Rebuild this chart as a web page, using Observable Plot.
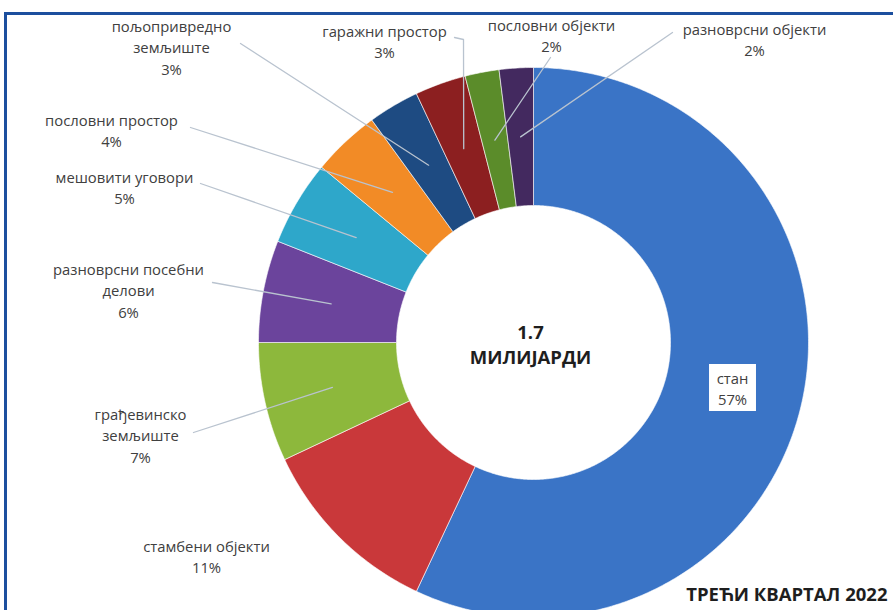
<!DOCTYPE html>
<html><head><meta charset="utf-8">
<script src="https://cdn.jsdelivr.net/npm/d3@7"></script>
<script src="https://cdn.jsdelivr.net/npm/@observablehq/plot@0.6"></script>
<style>
body{margin:0;background:#fff;}
#wrap{position:relative;width:893px;height:610px;overflow:hidden;background:#fff;}
#frame{position:absolute;left:4px;top:12px;width:1000px;height:800px;border-left:3px solid #1c4f9e;border-top:3px solid #1c4f9e;}
#chart{position:absolute;left:0;top:0;}
</style></head>
<body><div id="wrap"><div id="frame"></div><div id="chart"></div></div>
<script>
// ---- data ----
const categories = ["стан","стамбени објекти","грађевинско земљиште","разноврсни посебни делови","мешовити уговори","пословни простор","пољопривредно земљиште","гаражни простор","пословни објекти","разноврсни објекти"];
const shares = [57, 11, 7, 6, 5, 4, 3, 3, 2, 2];
const labelTexts = ["стан\n57%","стамбени објекти\n11%","грађевинско\nземљиште\n7%","разноврсни посебни\nделови\n6%","мешовити уговори\n5%","пословни простор\n4%","пољопривредно\nземљиште\n3%","гаражни простор\n3%","пословни објекти\n2%","разноврсни објекти\n2%"];
const totalLabel = "1.7\nМИЛИЈАРДИ";
const periodLabel = "ТРЕЋИ КВАРТАЛ 2022";

// ---- style / layout ----
const colors = ["#3a74c6","#c9383a","#8db83c","#6b449c","#2ea7ca","#f28b26","#1e4b82","#8c1f20","#5b8c2a","#43295f"];
const W = 893, H = 610, CX = 533, CY = 342, R = 275, R0 = 137;
// label anchors (pixels) and leader-line start points (pixels)
const labelPos = [[732,387],[206,555],[140,434],[128,289],[124,186],[111,129],[171,46],[384,40],[551,34],[754,38]];
const leaderStart = [null,null,[[193,432]],[[212,282]],[[200,183]],[[190,127]],[[240,43]],[[454,37],[463,39]],[[550,57]],[[672,32]]];

const ux = px => (px - CX) / R;
const uy = py => (CY - py) / R;

const arcs = d3.pie().sort(null).value(d => d)(shares);

// slice polygons
const slicePts = [];
arcs.forEach((a, i) => {
  const n = Math.max(4, Math.ceil((a.endAngle - a.startAngle) / 0.01));
  const pts = [];
  for (let k = 0; k <= n; k++) { const t = a.startAngle + (a.endAngle - a.startAngle) * k / n; pts.push([Math.sin(t), Math.cos(t)]); }
  for (let k = n; k >= 0; k--) { const t = a.startAngle + (a.endAngle - a.startAngle) * k / n; pts.push([R0 / R * Math.sin(t), R0 / R * Math.cos(t)]); }
  pts.push(pts[0]);
  pts.forEach(p => slicePts.push({cat: categories[i], x: p[0], y: p[1]}));
});

// leader lines
const leaderPts = [];
arcs.forEach((a, i) => {
  if (!leaderStart[i]) return;
  const mid = (a.startAngle + a.endAngle) / 2, rm = (R + R0) / 2 / R;
  leaderStart[i].forEach(p => leaderPts.push({cat: categories[i], x: ux(p[0]), y: uy(p[1])}));
  leaderPts.push({cat: categories[i], x: rm * Math.sin(mid), y: rm * Math.cos(mid)});
});

const labels = labelTexts.map((t, i) => ({text: t, x: ux(labelPos[i][0]), y: uy(labelPos[i][1]), inside: i === 0}));

const font = "'Open Sans', sans-serif";
const chart = Plot.plot({
  width: W, height: H,
  margin: 0,
  x: {domain: [ux(0), ux(W)], axis: null},
  y: {domain: [uy(H), uy(0)], axis: null},
  color: {domain: categories, range: colors},
  style: {fontFamily: font, background: "transparent"},
  marks: [
    Plot.line(slicePts, {x: "x", y: "y", z: "cat", fill: "cat", stroke: "#ffffff", strokeWidth: 1, strokeOpacity: 0.6, curve: "linear"}),
    Plot.line(leaderPts, {x: "x", y: "y", z: "cat", stroke: "#b9c3cf", strokeWidth: 1.3, curve: "linear"}),
    Plot.dot(labels.filter(d => d.inside), {x: "x", y: "y", symbol: "square", r: 26.5, fill: "#ffffff", stroke: null}),
    Plot.text(labels, {x: "x", y: "y", text: "text", fill: "#404040", fontSize: 14.8, lineHeight: 1.47, lineAnchor: "middle", textAnchor: "middle"}),
    Plot.text([totalLabel], {x: () => ux(530), y: () => uy(343), text: d => d, fill: "#1e1e1e", fontSize: 18.5, fontWeight: "bold", lineHeight: 1.35, lineAnchor: "middle"}),
    Plot.text([periodLabel], {frameAnchor: "bottom-right", text: d => d, dx: -6, dy: -15, textAnchor: "end", lineAnchor: "middle", fill: "#1e1e1e", fontSize: 18.5, fontWeight: "bold"})
  ]
});
document.getElementById("chart").appendChild(chart);
</script>
</body></html>
